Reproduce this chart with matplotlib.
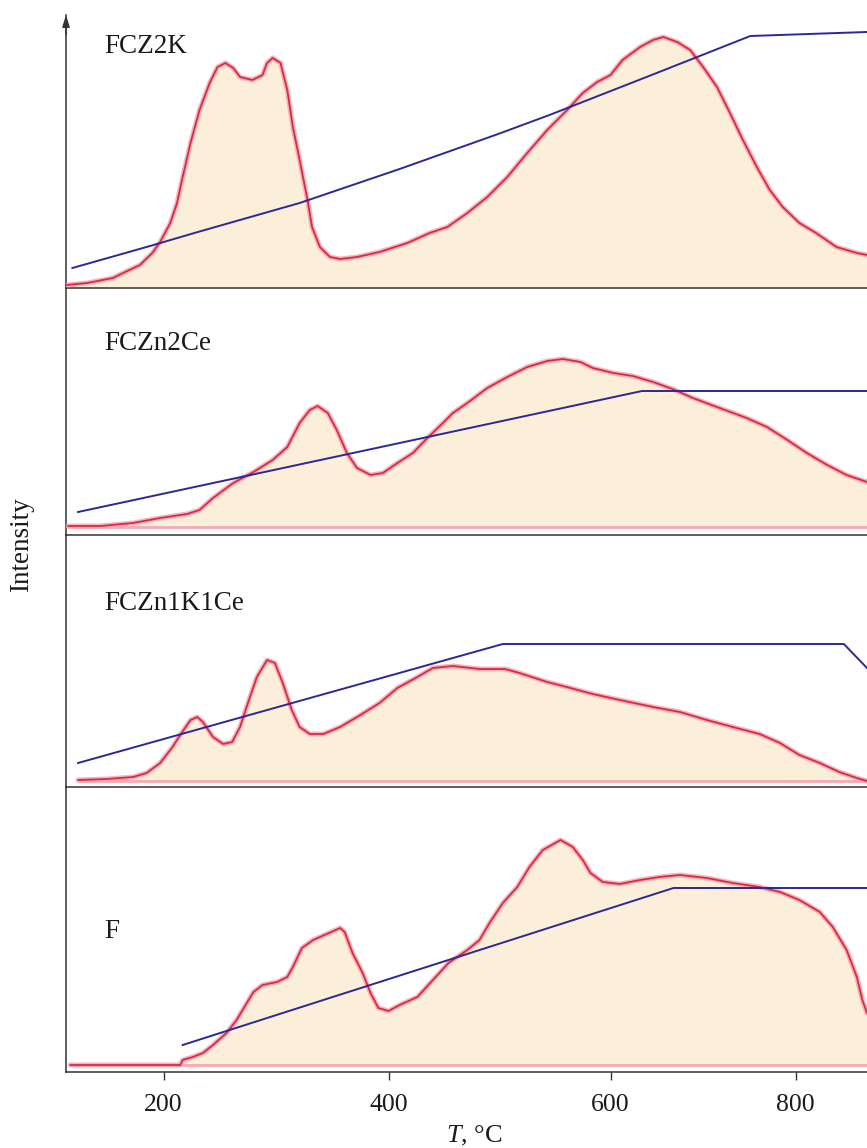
import numpy as np
import matplotlib
matplotlib.use("Agg")
import matplotlib.pyplot as plt
from matplotlib.scale import FuncScale

plt.rcParams["font.family"] = ["Liberation Serif", "DejaVu Serif"]
plt.rcParams["mathtext.fontset"] = "custom"
plt.rcParams["mathtext.it"] = "Liberation Serif:italic"
plt.rcParams["mathtext.rm"] = "Liberation Serif"

# ---- TPR profiles (temperature, °C ; intensity, a.u.) ----
samples = ["FCZ2K", "FCZn2Ce", "FCZn1K1Ce", "F"]

t_fcz2k = [114, 132, 155, 164, 179, 190, 197, 206, 212, 217, 224, 232, 241, 248, 255,
           262, 268, 279, 288, 292, 297, 304, 310, 315, 321, 328, 332, 339, 348, 357,
           372, 392, 417, 437, 453, 471, 489, 507, 525, 543, 561, 575, 588, 600, 613,
           632, 646, 657, 672, 686, 700, 715, 729, 743, 758, 772, 786, 804, 822, 844,
           866, 877]
i_fcz2k = [3, 5, 10, 15, 23, 35, 46, 65, 85, 111, 145, 178, 205, 221, 225,
           220, 211, 208, 213, 225, 230, 225, 198, 161, 128, 88, 61, 41, 31, 29,
           31, 36, 45, 55, 61, 75, 91, 111, 135, 158, 178, 195, 206, 213, 228,
           241, 248, 251, 246, 238, 221, 201, 175, 148, 121, 98, 81, 65, 55, 41,
           35, 33]

t_fczn2ce = [115, 144, 173, 197, 221, 232, 244, 262, 280, 297, 310, 321, 330, 337, 346,
             354, 363, 372, 384, 395, 408, 422, 435, 449, 458, 471, 489, 507, 525, 543,
             557, 573, 584, 603, 624, 646, 667, 689, 715, 747, 769, 791, 812, 834, 855,
             877]
i_fczn2ce = [9, 9, 12, 17, 21, 25, 37, 52, 63, 75, 88, 112, 125, 129, 122,
             105, 82, 67, 60, 62, 72, 82, 97, 112, 122, 132, 147, 158, 168, 174,
             176, 173, 167, 162, 159, 153, 146, 137, 128, 117, 108, 95, 82, 70, 60,
             53]

t_fczn1k1ce = [124, 150, 173, 185, 197, 208, 216, 224, 230, 235, 244, 253, 261, 268, 275,
               283, 292, 299, 306, 314, 321, 330, 342, 357, 375, 392, 408, 426, 440, 458,
               482, 505, 518, 543, 564, 584, 610, 646, 675, 704, 732, 761, 783, 804, 826,
               847, 866, 877]
i_fczn1k1ce = [7, 8, 10, 14, 24, 40, 54, 67, 70, 65, 50, 43, 45, 60, 84,
               110, 127, 124, 104, 77, 60, 53, 53, 60, 72, 84, 99, 110, 119, 121,
               118, 118, 114, 105, 99, 93, 87, 80, 75, 67, 60, 53, 44, 32, 24,
               15, 9, 6]

t_f = [117, 215, 217, 226, 235, 244, 256, 265, 274, 280, 288, 301, 310, 315, 323,
       333, 345, 357, 361, 368, 377, 384, 391, 400, 410, 426, 440, 454, 471, 482,
       491, 503, 516, 527, 539, 555, 566, 575, 582, 593, 610, 632, 653, 675, 704,
       732, 761, 783, 804, 826, 840, 855, 866, 872, 877]
i_f = [7, 7, 12, 15, 19, 27, 39, 52, 69, 80, 87, 90, 95, 105, 124,
       132, 138, 144, 140, 119, 99, 79, 64, 61, 67, 75, 92, 109, 122, 132,
       149, 169, 185, 205, 222, 232, 225, 212, 199, 190, 188, 192, 195, 197, 194,
       189, 185, 180, 172, 160, 145, 122, 95, 72, 59]

# heating program traces drawn over each profile
ramp_t_fcz2k = [119, 188, 232, 321, 410, 500, 545, 643, 751, 877]
ramp_i_fcz2k = [20, 42, 56.5, 85, 119, 154.5, 173, 212.5, 252, 256]
ramp_t_fczn2ce = [124, 634, 877]
ramp_i_fczn2ce = [23, 144, 144]
ramp_t_fczn1k1ce = [124, 503, 852, 877]
ramp_i_fczn1k1ce = [24, 143, 143, 119]
ramp_t_f = [217, 668, 877]
ramp_i_f = [27, 184, 184]

baselines = [None, 8.3, 6.3, 7.0]
y_tops = [273, 247, 252, 285]
xticks = [200, 400, 600, 800]

curves = [(t_fcz2k, i_fcz2k), (t_fczn2ce, i_fczn2ce),
          (t_fczn1k1ce, i_fczn1k1ce), (t_f, i_f)]
ramps = [(ramp_t_fcz2k, ramp_i_fcz2k), (ramp_t_fczn2ce, ramp_i_fczn2ce),
         (ramp_t_fczn1k1ce, ramp_i_fczn1k1ce), (ramp_t_f, ramp_i_f)]

# temperature axis is drawn with a non-uniform (piecewise linear) spacing
knot_t = np.array([100.0, 200.0, 400.0, 600.0, 800.0, 900.0])
knot_p = np.array([51.0, 163.5, 388.5, 610.5, 795.7, 888.3])


def fwd(t):
    return np.interp(t, knot_t, knot_p)


def inv(p):
    return np.interp(p, knot_p, knot_t)


FILL = "#FCEFDA"
HALO = "#F4A3AD"
RED = "#D72B45"
BLUE = "#2C2896"
BASE = "#F5A9B6"
SPINE = "#333333"

fig = plt.figure(figsize=(8.67, 11.48), dpi=100)
left = 66 / 867
width = 1 - left
boxes = [(288, 273), (535, 247), (787, 252), (1072, 285)]
label_y = [0.861, 0.749, 0.702, 0.470]

axes = []
for k, (bot_px, h_px) in enumerate(boxes):
    ax = fig.add_axes([left, (1148 - bot_px) / 1148, width, h_px / 1148])
    axes.append(ax)
    ax.set_xscale(FuncScale(ax, (fwd, inv)))
    ax.set_xlim(113.3, 877)
    ax.set_ylim(0, y_tops[k])
    t, y = np.array(curves[k][0], float), np.array(curves[k][1], float)
    base = baselines[k]
    if base is None:
        ax.fill_between(t, 0, y, color=FILL, lw=0, zorder=1)
    else:
        ax.fill_between(t, base, y, color=FILL, lw=0, zorder=1)
        ax.plot([t[0], t[-1]], [base, base], color=BASE, lw=2.0, zorder=2,
                solid_capstyle="butt")
    ax.plot(t, y, color=HALO, lw=3.6, alpha=0.8, zorder=3,
            solid_joinstyle="round", solid_capstyle="round")
    ax.plot(t, y, color=RED, lw=1.3, zorder=4,
            solid_joinstyle="round", solid_capstyle="round")
    ax.plot(ramps[k][0], ramps[k][1], color=BLUE, lw=1.4, zorder=5)

    ax.text(0.0474, label_y[k], samples[k], transform=ax.transAxes,
            fontsize=19.5, color="#1a1a1a", ha="left", va="baseline")

    for s in ("top", "right"):
        ax.spines[s].set_visible(False)
    for s in ("left", "bottom"):
        ax.spines[s].set_color(SPINE)
        ax.spines[s].set_linewidth(1.1)
    ax.set_yticks([])
    if k < 3:
        ax.set_xticks([])
    else:
        ax.set_xticks(xticks)
        ax.set_xticklabels([str(v) for v in xticks])
        ax.tick_params(axis="x", direction="out", length=6, width=1.0,
                       color=SPINE, labelsize=18.5, pad=10, labelcolor="#1a1a1a")
    ax.set_facecolor("none")

# arrow head on the intensity axis
axes[0].annotate("", xy=(0, 1.0), xytext=(0, 0.93), xycoords="axes fraction",
                 arrowprops=dict(arrowstyle="-|>,head_length=0.7,head_width=0.22",
                                 color=SPINE, lw=1.1, shrinkA=0, shrinkB=0),
                 annotation_clip=False)

fig.text(22 / 867, (1148 - 545) / 1148, "Intensity", rotation=90, fontsize=19.5,
         ha="center", va="center", color="#1a1a1a")
fig.text(474 / 867, (1148 - 1142) / 1148, r"$T$, °C", fontsize=19,
         ha="center", va="baseline", color="#1a1a1a")

fig.savefig("out.png", dpi=100, facecolor="white")
